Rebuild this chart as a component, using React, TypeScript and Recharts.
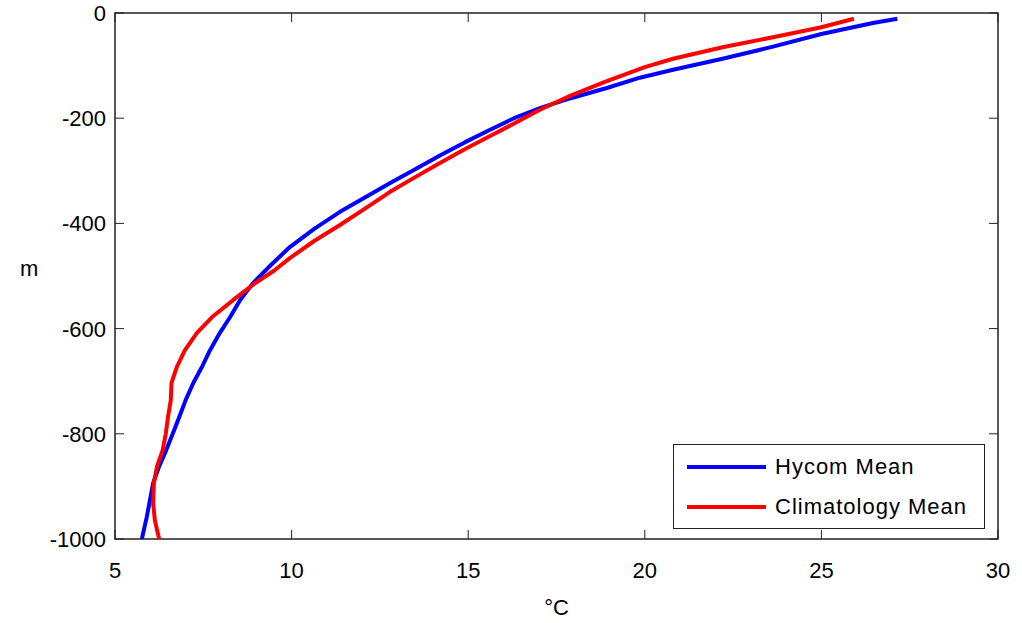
import React from "react";
import {
  ScatterChart,
  Scatter,
  XAxis,
  YAxis,
  Legend,
  ReferenceArea,
} from "recharts";

// depth (m) vs temperature (°C) profiles
const hycomDepth = [
  -11, -19, -40, -64, -87, -108, -123, -143, -162, -181, -200, -222, -246,
  -271, -297, -323, -350, -378, -410, -445, -480, -514, -546, -578, -608,
  -641, -673, -703, -736, -768, -799, -831, -862, -894, -958, -1000,
];
const hycomTemp = [
  27.15, 26.46, 25.0, 23.63, 22.2, 20.8, 19.86, 18.9, 17.9, 17.03, 16.3,
  15.62, 14.9, 14.2, 13.5, 12.79, 12.1, 11.37, 10.65, 9.95, 9.4, 8.9, 8.54,
  8.26, 7.97, 7.69, 7.46, 7.22, 7.0, 6.82, 6.64, 6.45, 6.25, 6.08, 5.9, 5.76,
];

const climDepth = [
  -11, -27, -46, -65, -87, -103, -131, -157, -184, -210, -234, -259, -285,
  -312, -340, -371, -403, -433, -466, -490, -514, -546, -578, -608, -641,
  -673, -703, -736, -768, -799, -831, -862, -894, -932, -965, -1000,
];
const climTemp = [
  25.92, 25.0, 23.63, 22.2, 20.8, 20.0, 18.87, 17.9, 17.03, 16.3, 15.62,
  14.9, 14.2, 13.5, 12.79, 12.1, 11.37, 10.65, 9.95, 9.5, 8.96, 8.34, 7.75,
  7.32, 6.98, 6.75, 6.6, 6.58, 6.5, 6.44, 6.35, 6.19, 6.1, 6.08, 6.13, 6.25,
];

const seriesNames = ["Hycom Mean", "Climatology Mean"];
const xTicks = [5, 10, 15, 20, 25, 30];
const yTicks = [-1000, -800, -600, -400, -200, 0];

const hycom = hycomDepth.map((d, i) => ({ temp: hycomTemp[i], depth: d }));
const clim = climDepth.map((d, i) => ({ temp: climTemp[i], depth: d }));

const W = 1022;
const H = 623;
const TOP = 13;
const LEFT = 115;
const RIGHT = 998;
const BOTTOM = 539;
const TICK = 9;
const FONT = "'Liberation Sans', Arial, sans-serif";

const noDot = () => <g />;

const XTick = (props: any) => {
  const { x, payload } = props;
  return (
    <g>
      <line x1={x} y1={BOTTOM} x2={x} y2={BOTTOM - TICK} stroke="#222" />
      <line x1={x} y1={TOP} x2={x} y2={TOP + TICK} stroke="#222" />
      <text x={x} y={BOTTOM + 39} textAnchor="middle" fontSize={22} fill="#000">
        {payload.value}
      </text>
    </g>
  );
};

const YTick = (props: any) => {
  const { y, payload } = props;
  return (
    <g>
      <line x1={LEFT} y1={y} x2={LEFT + TICK} y2={y} stroke="#222" />
      <line x1={RIGHT} y1={y} x2={RIGHT - TICK} y2={y} stroke="#222" />
      <text x={LEFT - 9} y={y + 8} textAnchor="end" fontSize={22} fill="#000">
        {payload.value}
      </text>
    </g>
  );
};

const LegendBox = (props: any) => {
  const items = [...(props.payload || [])].sort(
    (a: any, b: any) => seriesNames.indexOf(a.value) - seriesNames.indexOf(b.value)
  );
  return (
    <div
      style={{
        width: 312,
        height: 85,
        border: "1px solid #222",
        background: "#fff",
        boxSizing: "border-box",
        paddingTop: 2,
      }}
    >
      {items.map((it: any) => (
        <div
          key={it.value}
          style={{ display: "flex", alignItems: "center", height: 40 }}
        >
          <div
            style={{
              width: 79,
              height: 4,
              background: it.color,
              marginLeft: 13,
              marginRight: 9,
            }}
          />
          <span style={{ fontSize: 22, letterSpacing: 1, color: "#000" }}>
            {it.value}
          </span>
        </div>
      ))}
    </div>
  );
};

export default function App() {
  return (
    <div
      style={{
        position: "absolute",
        left: 0,
        top: 0,
        width: W,
        height: H,
        background: "#fff",
        fontFamily: FONT,
      }}
    >
      <ScatterChart
        width={W}
        height={H}
        margin={{ top: TOP, right: W - RIGHT, bottom: 0, left: 0 }}
      >
        <XAxis
          type="number"
          dataKey="temp"
          domain={[5, 30]}
          ticks={xTicks}
          allowDataOverflow
          height={H - BOTTOM}
          tickSize={0}
          tickMargin={0}
          tickLine={false}
          axisLine={false}
          tick={<XTick />}
          label={{
            value: "°C",
            position: "insideBottom",
            offset: 8,
            fontSize: 22,
            fill: "#000",
          }}
        />
        <YAxis
          type="number"
          dataKey="depth"
          domain={[-1000, 0]}
          ticks={yTicks}
          allowDataOverflow
          width={LEFT}
          tickSize={0}
          tickMargin={0}
          tickLine={false}
          axisLine={false}
          tick={<YTick />}
          label={{
            value: "m",
            position: "insideLeft",
            offset: 20,
            dy: -8,
            fontSize: 22,
            fill: "#000",
          }}
        />
        <ReferenceArea
          x1={5}
          x2={30}
          y1={-1000}
          y2={0}
          fill="none"
          stroke="#222"
          strokeWidth={1.5}
          ifOverflow="visible"
        />
        <Scatter
          name="Hycom Mean"
          data={hycom}
          fill="#0000ff"
          line={{ stroke: "#0000ff", strokeWidth: 4, strokeLinejoin: "round" }}
          lineType="joint"
          shape={noDot}
          isAnimationActive={false}
        />
        <Scatter
          name="Climatology Mean"
          data={clim}
          fill="#ff0000"
          line={{ stroke: "#ff0000", strokeWidth: 4, strokeLinejoin: "round" }}
          lineType="joint"
          shape={noDot}
          isAnimationActive={false}
        />
        <Legend
          layout="horizontal"
          verticalAlign="middle"
          align="center"
          content={<LegendBox />}
          wrapperStyle={{ position: "absolute", left: 673, top: 444, width: 312 }}
        />
      </ScatterChart>
    </div>
  );
}
